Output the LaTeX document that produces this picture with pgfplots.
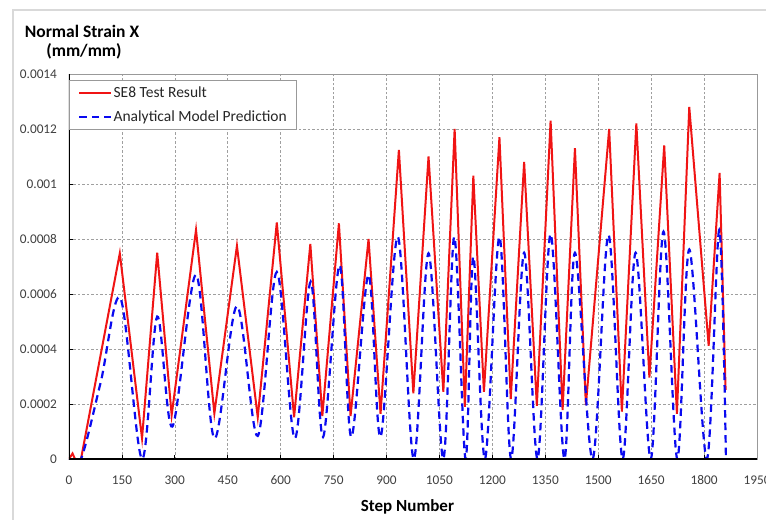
\documentclass[border=0pt]{standalone}
\usepackage{pgfplots}
\pgfplotsset{compat=1.18}
\usepackage{fontspec}
\setmainfont{Carlito}
\definecolor{ticktext}{RGB}{64,64,64}
\definecolor{redline}{RGB}{240,20,20}
\definecolor{blueline}{RGB}{10,10,240}
\begin{document}
\begin{tikzpicture}
\useasboundingbox (-69bp,-61bp) rectangle (697bp,459bp);
\fill[white] (-69bp,-61bp) rectangle (697bp,459bp);
\draw[gray!30, line width=2bp] (-56bp,-62bp) -- (-56bp,449bp) -- (698bp,449bp);
\node[anchor=base, font=\fontsize{17.5bp}{20bp}\selectfont\bfseries] at (13bp,421.5bp) {Normal Strain X};
\node[anchor=base, font=\fontsize{17.5bp}{20bp}\selectfont\bfseries] at (15bp,402bp) {(mm/mm)};
\begin{axis}[
  scale only axis, width=688bp, height=385bp,
  xmin=0, xmax=1950, ymin=0, ymax=0.0014,
  xtick={0,150,...,1950},
  ytick={0,0.0002,0.0004,0.0006,0.0008,0.001,0.0012,0.0014},
  yticklabels={0,0.0002,0.0004,0.0006,0.0008,0.001,0.0012,0.0014},
  scaled y ticks=false,
  /pgf/number format/assume math mode=true,
  /pgf/number format/1000 sep={},
  tick label style={font=\fontsize{13.3bp}{15bp}\selectfont, text=ticktext},
  xticklabel style={anchor=base, yshift=-25.3bp},
  yticklabel style={xshift=-8.5bp},
  tick align=inside, major tick length=4bp,
  tick style={black, line width=0.8bp},
  xtick pos=bottom, ytick pos=left,
  grid=major,
  major grid style={gray!75, line width=0.6bp, dash pattern=on 2.5bp off 2bp},
  axis line style={gray!80, line width=0.8bp},
  xlabel={Step Number},
  every axis x label/.style={at={(axis description cs:0.492,0)}, anchor=base, yshift=-52bp, font=\fontsize{17bp}{20bp}\selectfont\bfseries},
  legend cell align=left,
  legend image code/.code={\draw[#1] (0bp,0bp) -- (32bp,0bp);},
  legend style={at={(axis description cs:0,0.9844)}, anchor=north west,
    draw=gray!80, line width=0.8bp, fill=white,
    font=\fontsize{15.5bp}{18bp}\selectfont, text=black!85,
    inner xsep=9bp, inner ysep=4.5bp, row sep=8bp,
    nodes={inner xsep=1bp}},
]
\addplot[redline, line width=2bp] table {
x y
0 0
10 0.00002
17 0
34 0
144 0.000748
207 0.000075
250 0.00075
291 0.00016
360 0.000833
412 0.000166
476 0.000775
535 0.000152
589 0.00086
638 0.000152
684 0.000782
718 0.000156
765 0.000857
798 0.000156
849 0.0008
883 0.000164
935 0.001124
976 0.000239
1019 0.0011
1061 0.000244
1093 0.0012
1122 0.00019
1146 0.00103
1176 0.000244
1220 0.00117
1252 0.000218
1290 0.00108
1326 0.000193
1365 0.00123
1399 0.000178
1434 0.00113
1465 0.000196
1531 0.0012
1567 0.000172
1608 0.00122
1645 0.000296
1687 0.00114
1723 0.000164
1758 0.00128
1813 0.000412
1844 0.00104
1861 0.000251
};
\addlegendentry{SE8 Test Result}
\addplot[blueline, line width=2.2bp, dash pattern=on 7.5bp off 5bp, smooth, tension=0.55] table {
x y
0 0
34 0
90 0.00028
146 0.000584
207 0
250 0.000518
293 0.000118
360 0.00067
412 0.000075
476 0.000556
535 0.000084
589 0.00068
640 0.000075
685 0.000645
720 0.00008
767 0.000705
800 0.00008
849 0.00067
883 0.00008
932 0.000808
977 0
1019 0.000748
1061 0
1092 0.000808
1124 0
1146 0.000736
1179 0
1220 0.000808
1253 0
1290 0.00075
1328 0
1365 0.000818
1404 0
1434 0.00075
1484 0
1529 0.000815
1569 0
1606 0.00075
1649 0
1685 0.000827
1724 0
1758 0.000762
1808 0
1843 0.000833
1862 0
};
\addlegendentry{Analytical Model Prediction}
\draw[black, line width=1.3bp] (rel axis cs:0,1) -- (rel axis cs:0,0) -- (rel axis cs:1,0);
\end{axis}
\end{tikzpicture}
\end{document}
